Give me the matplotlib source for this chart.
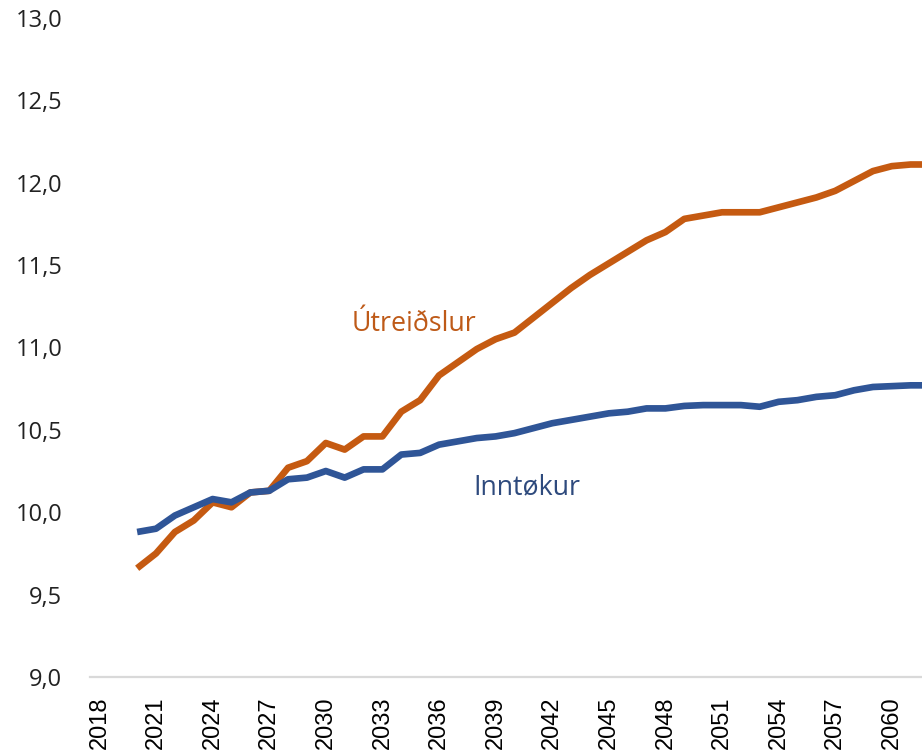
import matplotlib.pyplot as plt
from matplotlib.ticker import FuncFormatter, MultipleLocator

# data
years = list(range(2020, 2063))

utreidslur = [9.66, 9.75, 9.88, 9.95, 10.06, 10.03, 10.12, 10.13, 10.27, 10.31,
              10.42, 10.38, 10.46, 10.46, 10.61, 10.68, 10.83, 10.91, 10.99, 11.05,
              11.09, 11.18, 11.27, 11.36, 11.44, 11.51, 11.58, 11.65, 11.70, 11.78,
              11.80, 11.82, 11.82, 11.82, 11.85, 11.88, 11.91, 11.95, 12.01, 12.07,
              12.10, 12.11, 12.11]

inntokur = [9.88, 9.90, 9.98, 10.03, 10.08, 10.06, 10.12, 10.13, 10.20, 10.21,
            10.25, 10.21, 10.26, 10.26, 10.35, 10.36, 10.41, 10.43, 10.45, 10.46,
            10.48, 10.51, 10.54, 10.56, 10.58, 10.60, 10.61, 10.63, 10.63, 10.645,
            10.65, 10.65, 10.65, 10.64, 10.67, 10.68, 10.70, 10.71, 10.74, 10.76,
            10.765, 10.77, 10.77]

tick_years = list(range(2018, 2061, 3))

orange = '#C55A11'
blue = '#2F5597'

fig = plt.figure(figsize=(9.22, 7.52), dpi=100)
ax = fig.add_axes([0.0976, 0.0997, 0.9024, 0.8766])

ax.plot(years, utreidslur, color=orange, lw=4.8, solid_capstyle='butt')
ax.plot(years, inntokur, color=blue, lw=4.8, solid_capstyle='butt')

ax.set_xlim(2017.5, 2061.6)
ax.set_ylim(9.0, 13.0)
ax.yaxis.set_major_locator(MultipleLocator(0.5))
ax.yaxis.set_major_formatter(FuncFormatter(lambda v, p: f"{v:.1f}".replace('.', ',')))
ax.set_xticks(tick_years)
ax.set_xticklabels([str(y) for y in tick_years], rotation=90,
                   family='Liberation Sans', fontsize=17)
for lab in ax.get_yticklabels():
    lab.set_family('Open Sans')
    lab.set_fontsize(17)
    lab.set_color('#222222')

ax.tick_params(axis='both', length=0)
ax.tick_params(axis='y', pad=20)
ax.tick_params(axis='x', pad=14)

for s in ['top', 'right', 'left']:
    ax.spines[s].set_visible(False)
ax.spines['bottom'].set_color('#D9D9D9')
ax.spines['bottom'].set_linewidth(1.6)

ax.text(2031.35, 11.145, 'Útreiðslur', color='#BE5A18', fontsize=19.3,
        family='Open Sans', ha='left', va='center')
ax.text(2037.8, 10.15, 'Inntøkur', color='#2E4A7D', fontsize=19.3,
        family='Open Sans', ha='left', va='center')

fig.savefig('out.png', dpi=100)
